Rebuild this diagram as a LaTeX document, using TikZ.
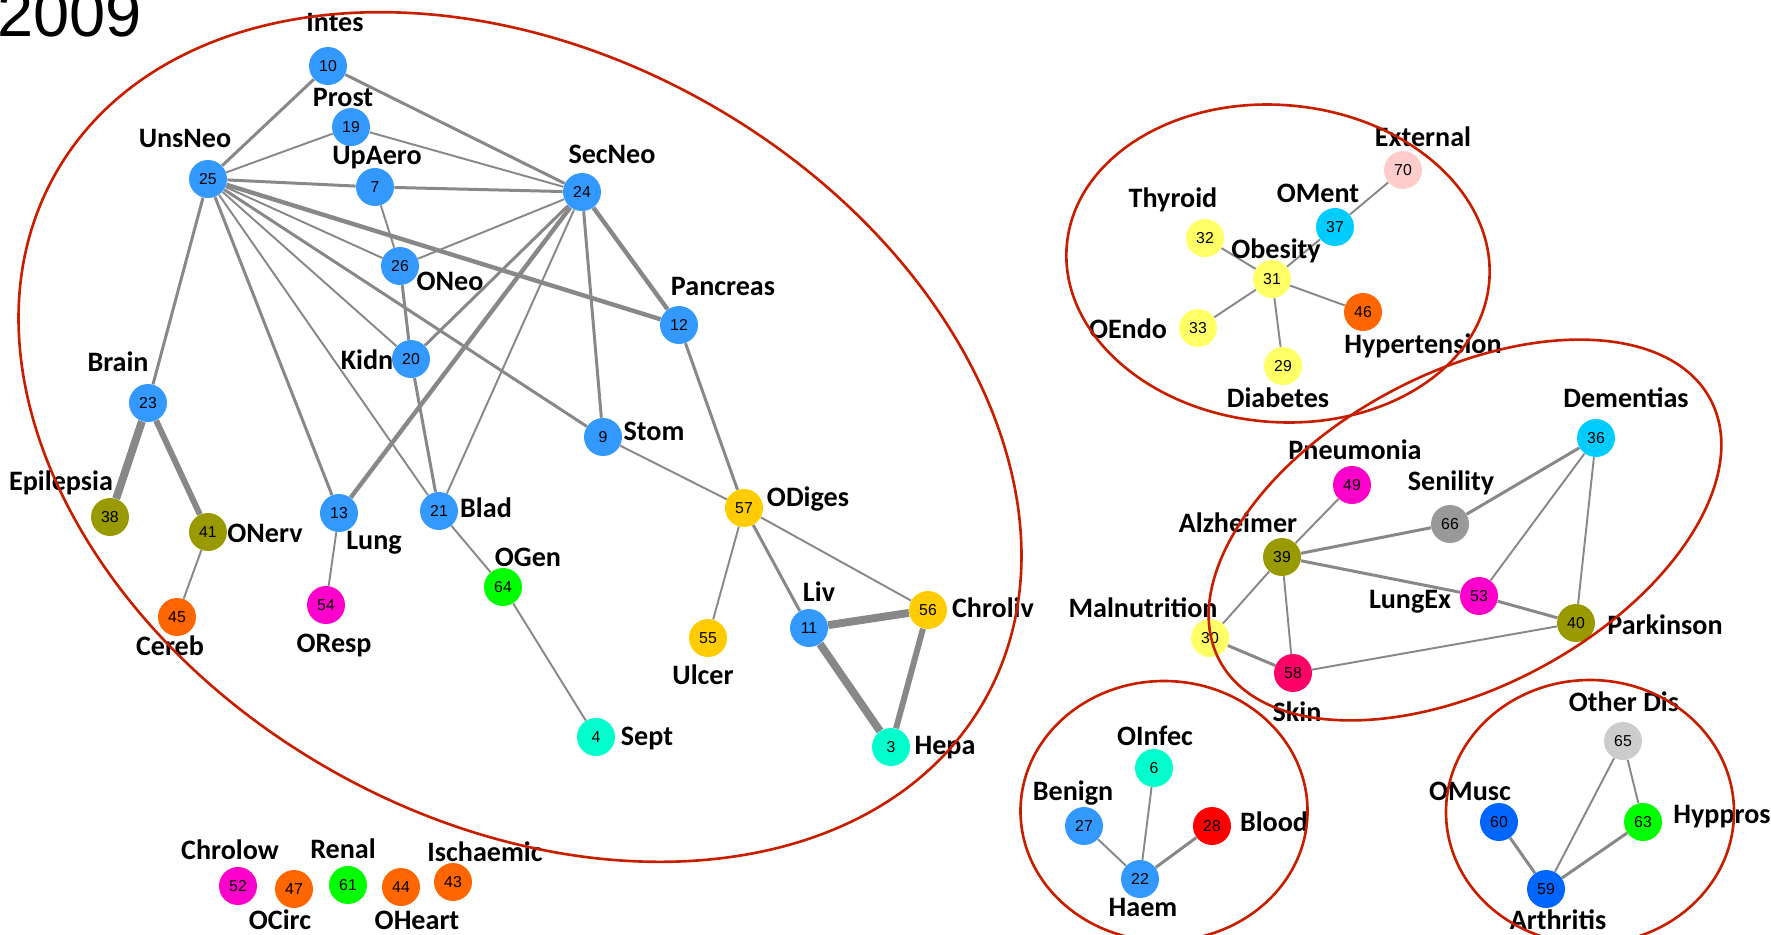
\documentclass[tikz,border=0pt]{standalone}
\usepackage{fontspec}
\setmainfont{Carlito}
\newfontfamily\numfont{Liberation Sans}
\usetikzlibrary{backgrounds}

% node colours
\definecolor{cNeo}{RGB}{51,153,255}
\definecolor{cOlive}{RGB}{153,153,0}
\definecolor{cOrng}{RGB}{255,102,0}
\definecolor{cMag}{RGB}{255,0,204}
\definecolor{cGrn}{RGB}{0,255,0}
\definecolor{cTurq}{RGB}{0,255,204}
\definecolor{cGold}{RGB}{255,204,0}
\definecolor{cLyel}{RGB}{255,255,102}
\definecolor{cCyan}{RGB}{0,204,255}
\definecolor{cPink}{RGB}{255,204,204}
\definecolor{cGry}{RGB}{153,153,153}
\definecolor{cLgry}{RGB}{204,204,204}
\definecolor{cRed}{RGB}{255,0,0}
\definecolor{cCrim}{RGB}{255,0,102}
\definecolor{cDblue}{RGB}{0,102,255}
\definecolor{linkgray}{RGB}{136,136,136}
\definecolor{ringred}{RGB}{200,30,0}

\tikzset{
  dis/.style={circle,draw=none,minimum size=0.76cm,inner sep=0,
    font=\numfont\fontsize{9}{9}\selectfont},
  lbl/.style={inner sep=0,font=\bfseries\fontsize{16}{16}\selectfont},
  link/.style={draw=linkgray,line width=#1},
  ring/.style={draw=ringred,line width=1.5pt}
}

\begin{document}
\begin{tikzpicture}[x=0.02cm,y=-0.02cm]
    \useasboundingbox (0,0) rectangle (1771,934);

    % Year
    \node[anchor=base west,inner sep=0,font=\numfont\fontsize{37}{37}\selectfont] (year) at (-3,36) {2009};

    % Disease nodes: number/x/y/colour
    \foreach \n/\x/\y/\c in {10/328/66/cNeo, 19/351/127/cNeo, 25/208/179/cNeo, 7/375/187/cNeo,
        24/582/192/cNeo, 26/400/266/cNeo, 12/679/325/cNeo, 20/411/359/cNeo, 23/148/403/cNeo,
        9/603/437/cNeo, 13/339/513/cNeo, 21/439/511/cNeo, 57/744/508/cGold, 38/110/517/cOlive,
        41/208/532/cOlive, 64/503/587/cGrn, 54/326/605/cMag, 45/177/617/cOrng, 56/928/610/cGold,
        11/809/628/cNeo, 55/708/638/cGold, 4/596/737/cTurq, 3/891/747/cTurq,
        52/238/886/cMag, 47/294/889/cOrng, 61/348/885/cGrn, 44/401/887/cOrng, 43/453/882/cOrng,
        70/1403/170/cPink, 37/1335/227/cCyan, 32/1205/238/cLyel, 31/1272/279/cLyel,
        46/1363/312/cOrng, 33/1198/328/cLyel, 29/1283/366/cLyel,
        36/1596/438/cCyan, 49/1352/485/cMag, 66/1450/524/cGry, 39/1282/557/cOlive,
        53/1479/596/cMag, 40/1576/623/cOlive, 30/1210/638/cLyel, 58/1293/673/cCrim,
        6/1154/768/cTurq, 27/1084/826/cNeo, 28/1212/826/cRed, 22/1140/879/cNeo,
        65/1623/741/cLgry, 60/1499/822/cDblue, 63/1643/822/cGrn, 59/1546/889/cDblue}
        \node[dis,fill=\c] (n\n) at (\x,\y) {\n};

    % Names of the diseases
    \foreach \n/\x/\y/\t in {10/335/22/Intes, 19/343/97/Prost, 25/185/138/UnsNeo, 7/377/158/UpAero,
        24/612/154/SecNeo, 26/450/281/ONeo, 12/723/286/Pancreas, 20/367/360/Kidn, 23/118/362/Brain,
        9/654/431/Stom, 38/61/483/Epilepsia, 21/486/508/Blad, 57/808/499/ODiges, 41/265/533/ONerv,
        13/374/543/Lung, 64/528/557/OGen, 11/819/592/Liv, 56/993/608/Chroliv, 45/170/646/Cereb,
        54/334/645/OResp, 55/703/675/Ulcer, 4/647/738/Sept, 3/945/748/Hepa,
        52/230/850/Chrolow, 61/343/849/Renal, 43/485/852/Ischaemic, 47/280/920/OCirc, 44/417/920/OHeart,
        70/1423/137/External, 37/1318/193/OMent, 32/1173/200/Thyroid, 31/1276/251/Obesity,
        33/1128/329/OEndo, 46/1423/346/Hypertension, 29/1278/398/Diabetes,
        36/1626/398/Dementias, 49/1355/450/Pneumonia, 66/1451/483/Senility, 39/1238/523/Alzheimer,
        53/1410/602/LungEx, 40/1665/625/Parkinson, 30/1143/608/Malnutrition, 58/1297/712/Skin,
        6/1155/736/OInfec, 27/1073/793/Benign, 28/1274/822/Blood, 22/1143/907/Haem,
        65/1624/702/Other Dis, 60/1470/791/OMusc, 63/1722/817/Hyppros, 59/1558/920/Arthritis}
        \node[lbl] (t\n) at (\x,\y) {\t};

    % Links behind the nodes, grouped by weight
    \begin{pgfonlayer}{background}
        \foreach \a/\b in {19/25, 19/24, 7/26, 25/26, 25/20, 25/21, 24/26, 24/21, 9/57, 41/45,
            13/54, 21/64, 64/4, 57/55, 57/56,
            70/37, 37/31, 32/31, 31/33, 31/29, 31/46,
            49/39, 36/53, 36/40, 39/30, 39/58, 58/40,
            27/22, 6/22, 59/65, 65/63}
            \draw[link=1.1pt] (n\a) -- (n\b);
        \foreach \a/\b in {10/25, 10/24, 25/7, 7/24, 25/9, 25/13, 25/23, 24/20, 24/9, 26/20,
            20/21, 12/57, 57/11,
            39/66, 66/36, 39/53, 53/40, 30/58, 28/22, 60/59, 59/63}
            \draw[link=1.7pt] (n\a) -- (n\b);
        \foreach \a/\b in {25/12, 24/13, 24/12}
            \draw[link=2.5pt] (n\a) -- (n\b);
        \foreach \a/\b in {23/41, 56/3}
            \draw[link=3.4pt] (n\a) -- (n\b);
        \foreach \a/\b in {23/38, 11/56, 11/3}
            \draw[link=4.5pt] (n\a) -- (n\b);
    \end{pgfonlayer}

    % Red rings round the clusters
    \draw[ring,rotate around={-29.6:(520,437)}] (520,437) ellipse [x radius=534, y radius=383];
    \draw[ring,rotate around={-5:(1278,263.5)}] (1278,263.5) ellipse [x radius=212, y radius=158.5];
    \draw[ring,rotate around={28:(1465,530)}] (1465,530) ellipse [x radius=278, y radius=157];
    \draw[ring] (1164,811) ellipse [x radius=143.5, y radius=130];
    \draw[ring] (1590,812) ellipse [x radius=144, y radius=132];

\end{tikzpicture}
\end{document}
